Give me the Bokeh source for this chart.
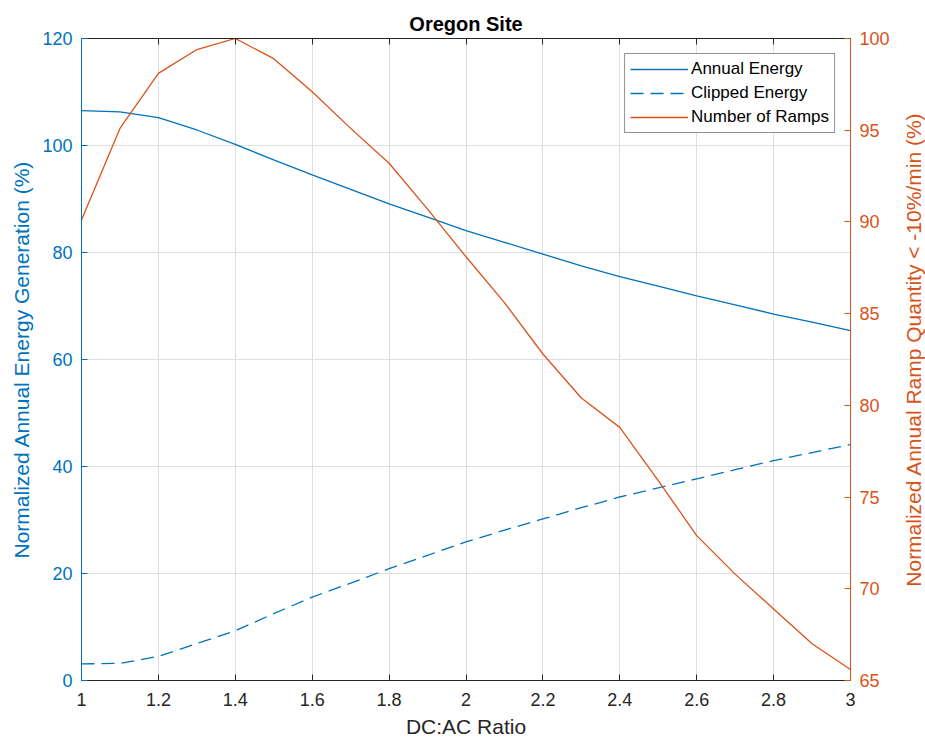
import math
from bokeh.plotting import figure
from bokeh.models import (Range1d, LinearAxis, FixedTicker, CustomJSTickFormatter,
                          Legend, LegendItem, Label)
from bokeh.embed import file_html
from bokeh.resources import INLINE

# ---- data ----
dc_ac = [1.0, 1.1, 1.2, 1.3, 1.4, 1.5, 1.6, 1.7, 1.8, 1.9, 2.0,
         2.1, 2.2, 2.3, 2.4, 2.5, 2.6, 2.7, 2.8, 2.9, 3.0]
annual_energy = [106.5, 106.3, 105.2, 102.9, 100.2, 97.3, 94.5, 91.8, 89.1, 86.6, 84.1,
                 81.9, 79.7, 77.5, 75.5, 73.7, 71.9, 70.2, 68.5, 67.0, 65.4]
clipped_energy = [3.1, 3.2, 4.5, 6.9, 9.3, 12.5, 15.6, 18.2, 20.9, 23.4, 25.9,
                  28.1, 30.2, 32.3, 34.3, 36.0, 37.7, 39.4, 41.1, 42.6, 44.1]
number_of_ramps = [90.1, 95.1, 98.1, 99.4, 100.0, 98.9, 97.1, 95.1, 93.2, 90.7, 88.1,
                   85.6, 82.8, 80.4, 78.8, 75.9, 72.9, 70.8, 68.9, 67.0, 65.6]

x_ticks = [1.0, 1.2, 1.4, 1.6, 1.8, 2.0, 2.2, 2.4, 2.6, 2.8, 3.0]
left_ticks = [0, 20, 40, 60, 80, 100, 120]
right_ticks = [65, 70, 75, 80, 85, 90, 95, 100]

title_text = "Oregon Site"
x_label = "DC:AC Ratio"
left_label = "Normalized Annual Energy Generation (%)"
right_label = "Normalized Annual Ramp Quantity < -10%/min (%)"

BLUE = "#0072BD"
ORANGE = "#D95319"
DARK = "#262626"
FONT = "Liberation Sans"

p = figure(width=925, height=740, output_backend="svg", toolbar_location=None,
           x_range=Range1d(1, 3), y_range=Range1d(0, 120),
           min_border_left=81, min_border_right=75, min_border_top=38, min_border_bottom=60,
           background_fill_color="white", border_fill_color="white")
p.extra_y_ranges = {"right": Range1d(65, 100)}
p.outline_line_color = None

# title
p.title.text = title_text
p.title.align = "center"
p.title.text_font = FONT
p.title.text_font_size = "20px"
p.title.text_font_style = "bold"
p.title.text_color = "black"
p.title.standoff = 8

fmt = CustomJSTickFormatter(code="return (Math.round(tick*10)/10).toString();")

# bottom axis
xa = p.xaxis[0]
xa.ticker = FixedTicker(ticks=x_ticks)
xa.formatter = fmt
xa.axis_label = x_label
xa.axis_label_text_font = FONT
xa.axis_label_text_font_size = "21px"
xa.axis_label_text_font_style = "normal"
xa.axis_label_text_color = DARK
xa.axis_label_standoff = 6
xa.major_label_text_font = FONT
xa.major_label_text_font_size = "18px"
xa.major_label_text_color = DARK
xa.major_label_standoff = 12
xa.axis_line_color = DARK
xa.major_tick_line_color = DARK
xa.major_tick_in = 6
xa.major_tick_out = 0
xa.minor_tick_line_color = None

# left axis
ya = p.yaxis[0]
ya.ticker = FixedTicker(ticks=left_ticks)
ya.axis_label = left_label
ya.axis_label_text_font = FONT
ya.axis_label_text_font_size = "21px"
ya.axis_label_text_font_style = "normal"
ya.axis_label_text_color = BLUE
ya.axis_label_standoff = 6
ya.major_label_text_font = FONT
ya.major_label_text_font_size = "18px"
ya.major_label_text_color = BLUE
ya.major_label_standoff = 9
ya.axis_line_color = BLUE
ya.major_tick_line_color = BLUE
ya.major_tick_in = 6
ya.major_tick_out = 0
ya.minor_tick_line_color = None

# right axis (its title is drawn as a rotated label reading bottom-to-top)
ra = LinearAxis(y_range_name="right", ticker=FixedTicker(ticks=right_ticks))
ra.major_label_text_font = FONT
ra.major_label_text_font_size = "18px"
ra.major_label_text_color = ORANGE
ra.major_label_standoff = 9
ra.axis_line_color = ORANGE
ra.major_tick_line_color = ORANGE
ra.major_tick_in = 6
ra.major_tick_out = 0
ra.minor_tick_line_color = None
p.add_layout(ra, "right")

right_title = Label(x=21, y=331, x_units="screen", y_units="screen", text=right_label,
                    angle=math.pi / 2, text_align="center", text_baseline="middle",
                    text_font=FONT, text_font_size="21px", text_color=ORANGE)
p.add_layout(right_title, "right")

# top axis (box)
ta = LinearAxis(ticker=FixedTicker(ticks=x_ticks))
ta.major_label_text_font_size = "1px"
ta.major_label_text_color = None
ta.major_label_standoff = 0
ta.axis_line_color = DARK
ta.major_tick_line_color = DARK
ta.major_tick_in = 6
ta.major_tick_out = 0
ta.minor_tick_line_color = None
p.add_layout(ta, "above")

# grids
p.xgrid.ticker = FixedTicker(ticks=x_ticks)
p.ygrid.ticker = FixedTicker(ticks=left_ticks)
p.xgrid.grid_line_color = "#dedede"
p.ygrid.grid_line_color = "#dedede"

r1 = p.line(dc_ac, annual_energy, line_color=BLUE, line_width=1.3)
r2 = p.line(dc_ac, clipped_energy, line_color=BLUE, line_width=1.3, line_dash="13 7")
r3 = p.line(dc_ac, number_of_ramps, line_color=ORANGE, line_width=1.3, y_range_name="right")

legend = Legend(items=[LegendItem(label="Annual Energy", renderers=[r1]),
                       LegendItem(label="Clipped Energy", renderers=[r2]),
                       LegendItem(label="Number of Ramps", renderers=[r3])],
                location="top_right")
legend.margin = 15
legend.padding = 5
legend.spacing = 4
legend.glyph_width = 58
legend.glyph_height = 20
legend.label_height = 20
legend.label_standoff = 3
legend.label_text_font = FONT
legend.label_text_font_size = "17px"
legend.label_text_color = "black"
legend.border_line_color = DARK
legend.border_line_width = 1
legend.background_fill_color = "white"
legend.background_fill_alpha = 1.0
p.add_layout(legend)

open("out.html", "w").write(file_html(p, INLINE))
